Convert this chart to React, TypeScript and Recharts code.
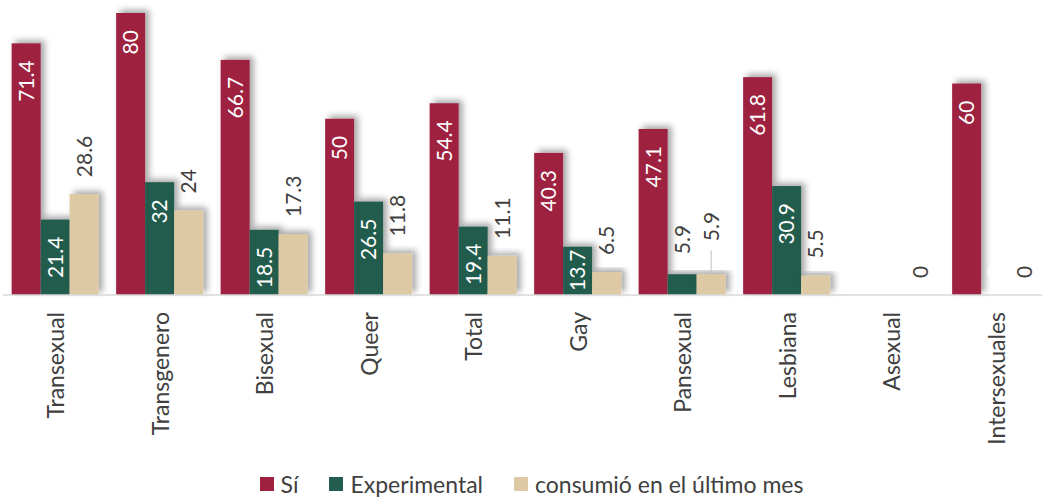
import React from "react";
import { BarChart, Bar, XAxis, YAxis, Legend, LabelList } from "recharts";

const categories = ["Transexual", "Transgenero", "Bisexual", "Queer", "Total", "Gay", "Pansexual", "Lesbiana", "Asexual", "Intersexuales"];
const si = [71.4, 80, 66.7, 50, 54.4, 40.3, 47.1, 61.8, 0, 60];
const experimental = [21.4, 32, 18.5, 26.5, 19.4, 13.7, 5.9, 30.9, 0, 0];
const ultimoMes = [28.6, 24, 17.3, 11.8, 11.1, 6.5, 5.9, 5.5, 0, 0];

const seriesNames = ["Sí", "Experimental", "consumió en el último mes"];
const colors = ["#9E2140", "#235B4E", "#DDC9A3"];

const data = categories.map((name, i) => ({
  name,
  si: si[i],
  experimental: experimental[i],
  ultimoMes: ultimoMes[i],
}));

const FONT = "Lato, 'Open Sans', sans-serif";
const LABEL_SIZE = 21;
const DARK = "#404040";

const ShadowBar = (props: any) => {
  const { x, y, width, height, fill } = props;
  if (!height || height <= 0) return null;
  return <rect x={x} y={y} width={width} height={height} fill={fill} filter="url(#barShadow)" />;
};

const rotText = (cx: number, cy: number, text: any, anchor: string, fill: string) => (
  <text
    x={cx + LABEL_SIZE * 0.36}
    y={cy}
    transform={`rotate(-90, ${cx + LABEL_SIZE * 0.36}, ${cy})`}
    textAnchor={anchor}
    fill={fill}
    fontSize={LABEL_SIZE}
    fontFamily={FONT}
  >
    {text}
  </text>
);

// inside-top white labels, or outside dark labels when the bar is too short
const insideLabel = (props: any) => {
  const { x, y, width, height, value } = props;
  const cx = x + width / 2;
  if (value === 0) return rotText(cx, y - 17, value, "start", "#ffffff");
  if (value < 10) return rotText(cx, y - 20, value, "start", DARK);
  if (height < 64) return rotText(cx, y + height - 4, value, "start", "#ffffff");
  return rotText(cx, y + 17, value, "end", "#ffffff");
};

const outsideLabel = (props: any) => {
  const { x, y, width, value, index } = props;
  const cx = x + width / 2;
  const crowded = experimental[index] > 0 && experimental[index] < 10;
  if (crowded) {
    return (
      <g>
        <line x1={cx} x2={cx} y1={y - 24} y2={y} stroke="#bfbfbf" strokeWidth={1} />
        {rotText(cx, y - 33, value, "start", DARK)}
      </g>
    );
  }
  return rotText(cx, y - 17, value, "start", DARK);
};

const CategoryTick = (props: any) => {
  const { x, y, payload } = props;
  const tx = x + 9;
  const ty = y + 15;
  return (
    <text x={tx} y={ty} transform={`rotate(-90, ${tx}, ${ty})`} textAnchor="end" fill={DARK} fontSize={23} fontFamily={FONT}>
      {payload.value}
    </text>
  );
};

const LegendContent = () => (
  <div style={{ display: "flex", justifyContent: "center", alignItems: "center", height: 26, paddingLeft: 21, fontFamily: FONT, fontSize: 23, color: DARK }}>
    {seriesNames.map((n, i) => (
      <div key={n} style={{ display: "flex", alignItems: "center", marginRight: i < seriesNames.length - 1 ? 31 : 0 }}>
        <span style={{ display: "inline-block", width: 14, height: 14, background: colors[i], marginRight: 7 }} />
        <span>{n}</span>
      </div>
    ))}
  </div>
);

export default function App() {
  return (
    <div style={{ position: "fixed", left: 0, top: 0, width: 1042, height: 497, overflow: "hidden", background: "#fff" }}>
      <BarChart width={1050} height={497} data={data} margin={{ top: 13, right: 2, left: 3, bottom: 0 }} barGap={0} barCategoryGap={8.65}>
        <defs>
          <filter id="barShadow" x="-30%" y="-20%" width="170%" height="140%">
            <feDropShadow dx={4} dy={-3} stdDeviation={3} floodColor="#000" floodOpacity={0.35} />
          </filter>
        </defs>
        <XAxis
          dataKey="name"
          interval={0}
          tickLine={false}
          tickSize={0}
          height={176}
          axisLine={{ stroke: "#d9d9d9", strokeWidth: 1.5 }}
          tick={<CategoryTick />}
        />
        <YAxis hide domain={[0, 80]} />
        <Legend
          verticalAlign="bottom"
          content={<LegendContent />}
          wrapperStyle={{ left: 0, width: 1042, bottom: 0, height: 26 }}
        />
        <Bar dataKey="si" name={seriesNames[0]} fill={colors[0]} shape={<ShadowBar />} isAnimationActive={false}>
          <LabelList dataKey="si" content={insideLabel} />
        </Bar>
        <Bar dataKey="experimental" name={seriesNames[1]} fill={colors[1]} shape={<ShadowBar />} isAnimationActive={false}>
          <LabelList dataKey="experimental" content={insideLabel} />
        </Bar>
        <Bar dataKey="ultimoMes" name={seriesNames[2]} fill={colors[2]} shape={<ShadowBar />} isAnimationActive={false}>
          <LabelList dataKey="ultimoMes" content={outsideLabel} />
        </Bar>
      </BarChart>
    </div>
  );
}
